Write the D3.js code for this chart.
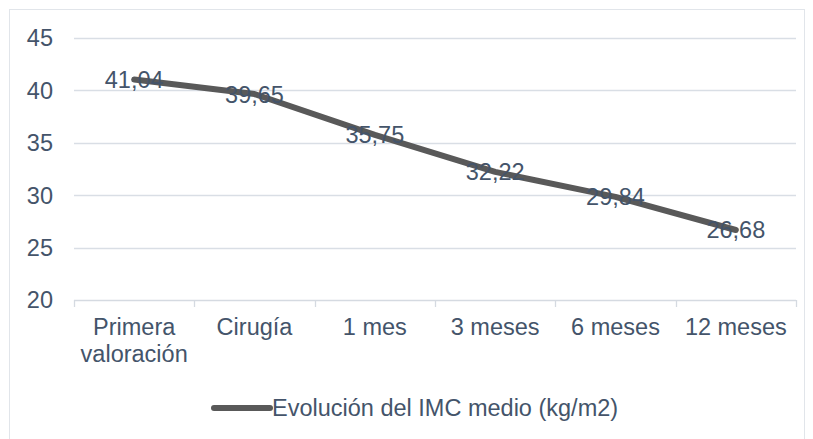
<!DOCTYPE html>
<html><head><meta charset="utf-8">
<script src="https://cdn.jsdelivr.net/npm/d3@7/dist/d3.min.js"></script>
<style>
html,body{margin:0;padding:0;background:#fff;}
svg{display:block;font-family:"Liberation Sans",Arial,sans-serif;}
</style></head>
<body><svg id="c" width="813" height="439"></svg>
<script>
const categories = [["Primera","valoración"],["Cirugía"],["1 mes"],["3 meses"],["6 meses"],["12 meses"]];
const values = [41.04, 39.65, 35.75, 32.22, 29.84, 26.68];
const valueLabels = ["41,04","39,65","35,75","32,22","29,84","26,68"];
const yTicks = [20,25,30,35,40,45];
const seriesName = "Evolución del IMC medio (kg/m2)";

(function(){
const svg = d3.select("#c");
const textColor = "#44546a";
const fs = 23.5;

svg.append("rect").attr("x",9.5).attr("y",9.5).attr("width",795).attr("height",440)
  .attr("fill","none").attr("stroke","#e1e5ea").attr("stroke-width",1);

const mL = 74, mR = 796, mT = 38, mB = 300;
const x = d3.scaleBand().domain(d3.range(categories.length)).range([mL,mR]).padding(0);
const y = d3.scaleLinear().domain([20,45]).range([mB,mT]);

svg.append("g").selectAll("line").data(yTicks.filter(t=>t>20)).join("line")
  .attr("x1",mL).attr("x2",mR).attr("y1",d=>Math.round(y(d))+0.5).attr("y2",d=>Math.round(y(d))+0.5)
  .attr("stroke","#d9dee5").attr("stroke-width",1.3);

svg.append("g").selectAll("text").data(yTicks).join("text")
  .attr("x",53).attr("y",d=>y(d)).attr("dy","0.36em").attr("text-anchor","end")
  .attr("fill",textColor).attr("font-size",fs).text(d=>d);

const xa = svg.append("g");
xa.append("line").attr("x1",mL).attr("x2",mR).attr("y1",mB+0.5).attr("y2",mB+0.5)
  .attr("stroke","#d5dae1").attr("stroke-width",1.3);
xa.selectAll("line.t").data(d3.range(categories.length+1)).join("line").attr("class","t")
  .attr("x1",i=>Math.round(mL + i*x.bandwidth())+0.5).attr("x2",i=>Math.round(mL + i*x.bandwidth())+0.5)
  .attr("y1",mB).attr("y2",mB+7).attr("stroke","#d5dae1").attr("stroke-width",1.3);
const xl = xa.selectAll("text").data(categories).join("text")
  .attr("x",(d,i)=>x(i)+x.bandwidth()/2).attr("y",335)
  .attr("text-anchor","middle").attr("fill",textColor).attr("font-size",fs);
xl.each(function(d,i){
  const t = d3.select(this);
  d.forEach((s,j)=>t.append("tspan").attr("x",x(i)+x.bandwidth()/2).attr("dy",j===0?0:27).text(s));
});

const line = d3.line().x((d,i)=>x(i)+x.bandwidth()/2).y(d=>y(d));
svg.append("path").datum(values).attr("d",line).attr("fill","none")
  .attr("stroke","#595959").attr("stroke-width",6).attr("stroke-linecap","round").attr("stroke-linejoin","round");

svg.append("g").selectAll("text").data(values).join("text")
  .attr("x",(d,i)=>x(i)+x.bandwidth()/2).attr("y",d=>y(d)).attr("dy","0.36em")
  .attr("text-anchor","middle").attr("fill",textColor).attr("font-size",fs)
  .text((d,i)=>valueLabels[i]);

svg.append("line").attr("x1",214).attr("x2",270).attr("y1",408).attr("y2",408)
  .attr("stroke","#595959").attr("stroke-width",6).attr("stroke-linecap","round");
svg.append("text").attr("x",272).attr("y",408).attr("dy","0.36em").attr("fill",textColor)
  .attr("font-size",fs).text(seriesName);
})();
</script></body></html>
